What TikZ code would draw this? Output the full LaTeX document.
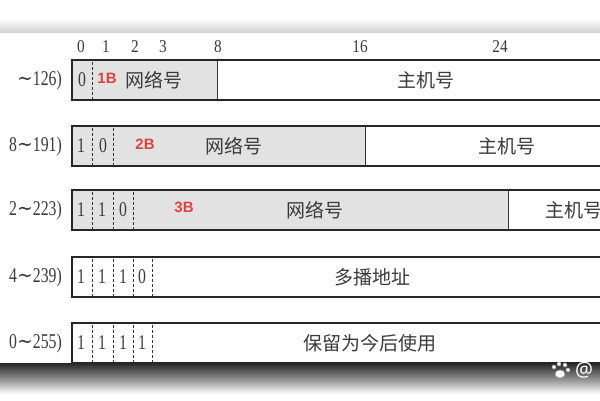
\documentclass[tikz,border=0pt]{standalone}
\usepackage{fontspec}
\setmainfont{Liberation Serif}
\newfontfamily\cjk{Noto Sans CJK SC}
\newfontfamily\dig[FakeStretch=0.75]{Liberation Serif}
\newfontfamily\numfont[FakeStretch=0.85]{Liberation Serif}
\newfontfamily\tildefont[FakeStretch=0.9]{DejaVu Serif}
\newfontfamily\lblfont{Liberation Sans}
\newfontfamily\wmfont{Noto Sans}
\definecolor{netgray}{HTML}{E2E2E2}
\definecolor{txtgray}{HTML}{3A3A3A}
\definecolor{redlbl}{HTML}{D9443F}
\newcommand{\tld}{{\tildefont ∼}}
\begin{document}
\begin{tikzpicture}[x=1pt,y=1pt,
  outline/.style={line width=1.9pt,draw=black!85},
  divider/.style={line width=1pt,draw=black!80},
  bitdash/.style={line width=0.8pt,draw=black!80,dash pattern=on 3pt off 2pt},
  netfill/.style={fill=netgray},
  bitnum/.style={font=\numfont\fontsize{18}{18}\selectfont,text=txtgray,inner sep=0pt},
  bitval/.style={font=\dig\fontsize{21}{21}\selectfont,text=txtgray,inner sep=0pt},
  rangelbl/.style={font=\dig\fontsize{21}{21}\selectfont,text=txtgray,inner sep=0pt,anchor=east},
  field/.style={font=\cjk\fontsize{19}{19}\selectfont,text=txtgray,inner sep=0pt},
  bytelbl/.style={font=\lblfont\bfseries\fontsize{15}{15}\selectfont,text=redlbl,inner sep=0pt}
]
\useasboundingbox (0,0) rectangle (600,400);
\fill[white] (0,0) rectangle (600,400);
% top shadow band
\shade[top color=white,bottom color=black!18] (0,367) rectangle (600,382);
% bottom dark band
\shade[top color=black!85,bottom color=white,middle color=black!45] (0,6) rectangle (600,37);

% bit numbers
\node[bitnum] (n0) at (81,353) {0};
\node[bitnum] (n1) at (106,353) {1};
\node[bitnum] (n2) at (135,353) {2};
\node[bitnum] (n3) at (163,353) {3};
\node[bitnum] (n8) at (218,353) {8};
\node[bitnum] (n16) at (360,353) {16};
\node[bitnum] (n24) at (500,353) {24};

% ---- row 1 (340..300)
\fill[netfill] (72,300) rectangle (217,340);
\draw[bitdash] (92,300) -- (92,340);
\draw[divider] (217,300) -- (217,340);
\draw[outline] (620,340) -- (72,340) -- (72,300) -- (620,300);
\node[bitval] (r1b0) at (82,320) {0};
\node[bytelbl] (r1B) at (107,322) {1B};
\node[field] (r1net) at (154,320) {网络号};
\node[field] (r1host) at (426,320) {主机号};
\node[rangelbl] (r1range) at (62,320) {\tld126)};

% ---- row 2 (274..234)
\fill[netfill] (72,234) rectangle (365,274);
\draw[bitdash] (92,234) -- (92,274);
\draw[bitdash] (113,234) -- (113,274);
\draw[divider] (365,234) -- (365,274);
\draw[outline] (620,274) -- (72,274) -- (72,234) -- (620,234);
\node[bitval] (r2b0) at (81,254) {1};
\node[bitval] (r2b1) at (103,254) {0};
\node[bytelbl] (r2B) at (145,256) {2B};
\node[field] (r2net) at (234,254) {网络号};
\node[field] (r2host) at (507,254) {主机号};
\node[rangelbl] (r2range) at (62,254) {8\tld191)};

% ---- row 3 (210..170)
\fill[netfill] (72,170) rectangle (508,210);
\draw[bitdash] (92,170) -- (92,210);
\draw[bitdash] (113,170) -- (113,210);
\draw[bitdash] (133,170) -- (133,210);
\draw[divider] (508,170) -- (508,210);
\draw[outline] (620,210) -- (72,210) -- (72,170) -- (620,170);
\node[bitval] (r3b0) at (81,190) {1};
\node[bitval] (r3b1) at (102,190) {1};
\node[bitval] (r3b2) at (123,190) {0};
\node[bytelbl] (r3B) at (184,193) {3B};
\node[field] (r3net) at (315,190) {网络号};
\node[field] (r3host) at (574,190) {主机号};
\node[rangelbl] (r3range) at (62,190) {2\tld223)};

% ---- row 4 (143..103)
\draw[bitdash] (92,103) -- (92,143);
\draw[bitdash] (113,103) -- (113,143);
\draw[bitdash] (133,103) -- (133,143);
\draw[bitdash] (152,103) -- (152,143);
\draw[outline] (620,143) -- (72,143) -- (72,103) -- (620,103);
\node[bitval] (r4b0) at (81,123) {1};
\node[bitval] (r4b1) at (102,123) {1};
\node[bitval] (r4b2) at (123,123) {1};
\node[bitval] (r4b3) at (142,123) {0};
\node[field] (r4f) at (372,123) {多播地址};
\node[rangelbl] (r4range) at (62,123) {4\tld239)};

% ---- row 5 (77..37)
\draw[bitdash] (92,37) -- (92,77);
\draw[bitdash] (113,37) -- (113,77);
\draw[bitdash] (133,37) -- (133,77);
\draw[bitdash] (152,37) -- (152,77);
\draw[outline] (620,77) -- (72,77) -- (72,37) -- (620,37);
\node[bitval] (r5b0) at (81,57) {1};
\node[bitval] (r5b1) at (102,57) {1};
\node[bitval] (r5b2) at (123,57) {1};
\node[bitval] (r5b3) at (142,57) {1};
\node[field] (r5f) at (370,57) {保留为今后使用};
\node[rangelbl] (r5range) at (62,57) {0\tld255)};

% watermark
\begin{scope}[fill=white,draw=black!40,line width=0.5pt]
\filldraw (560,26) ellipse (5pt and 4pt);
\filldraw (554,33) circle (2pt);
\filldraw (559,36) circle (2pt);
\filldraw (565,35) circle (2pt);
\filldraw (568,30) circle (2pt);
\end{scope}
\node[font=\wmfont\fontsize{20}{20}\selectfont,text=white,inner sep=0pt] (wm) at (584,30) {@};
\end{tikzpicture}
\end{document}
